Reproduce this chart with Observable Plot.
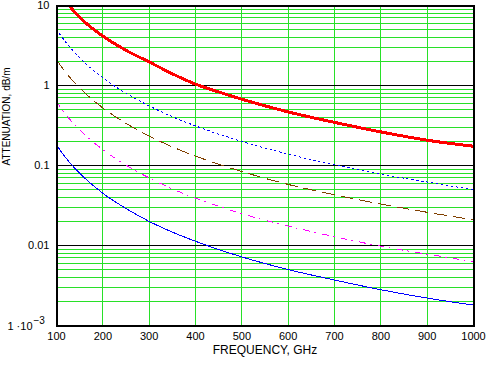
<!DOCTYPE html>
<html><head><meta charset="utf-8">
<script src="https://cdn.jsdelivr.net/npm/d3@7"></script>
<script src="https://cdn.jsdelivr.net/npm/@observablehq/plot@0.6"></script>
<style>html,body{margin:0;padding:0;background:#fff}svg{display:block}</style>
</head><body><div id="chart"></div>
<script>
// Frequency samples (GHz)
const frequencies = [100,125,150,175,200,250,300,350,400,450,500,600,700,800,900,1000];
// Attenuation values (dB/m)
const redThick   = [null,10.3,7.1,5.3,4.15,2.75,1.97,1.40,1.04,0.83,0.674,0.467,0.346,0.263,0.207,0.174];
const blueDotted = [5.0,3.2,2.22,1.63,1.25,0.80,0.556,0.408,0.3125,0.247,0.20,0.139,0.102,0.078,0.062,0.050];
const brownDashed= [2.1,1.34,0.933,0.686,0.525,0.336,0.233,0.171,0.131,0.104,0.084,0.058,0.043,0.033,0.026,0.021];
const magentaDashDot = [0.63,0.40,0.28,0.206,0.158,0.101,0.070,0.051,0.039,0.031,0.025,0.0175,0.0129,0.0098,0.0078,0.0063];
const blueSolid  = [0.18,0.115,0.080,0.059,0.045,0.029,0.020,0.0147,0.0113,0.0089,0.0072,0.0050,0.0037,0.0028,0.0022,0.0018];

// Axis ticks and labels
const xTicks = [100,200,300,400,500,600,700,800,900,1000];
const xTickLabels = ["100","200","300","400","500","600","700","800","900","1000"];
const yTicks = [0.001,0.01,0.1,1,10];
const yTickLabels = ["1 ·10","0.01","0.1","1","10"];
const yExpLabel = "−3";
const xLabel = "FREQUENCY, GHz";
const yLabel = "ATTENUATION, dB/m";

const mantissas = [2,3,4,5,6,7,8,9];
const minorY = [0.001,0.01,0.1,1].flatMap(d => mantissas.map(m => +(m*d).toPrecision(3)));

const rows = s => frequencies.map((f,i) => ({f, v: s[i]}));
const GREEN = "#28e028";
const font = "'Liberation Sans', Arial, sans-serif";
const crisp = {shapeRendering: "crispEdges"};

const line = (s, opts) => Plot.line(rows(s), {x:"f", y:"v", curve:"monotone-x", clip:true, ...crisp, ...opts});

const chart = Plot.plot({
  width: 494, height: 369,
  marginLeft: 56, marginRight: 21, marginTop: 5, marginBottom: 44,
  style: {fontFamily: font, fontSize: "11px", color: "black", background: "white"},
  x: {domain: [100,1000], axis: null},
  y: {type: "log", domain: [0.001,10], axis: null},
  marks: [
    Plot.ruleX(xTicks, {stroke: GREEN, strokeWidth: 1, ...crisp}),
    Plot.ruleY(minorY, {stroke: GREEN, strokeWidth: 1, ...crisp}),
    Plot.ruleY(yTicks, {stroke: "black", strokeWidth: 1, ...crisp}),
    line(blueSolid, {stroke: "#0000ff", strokeWidth: 1}),
    line(magentaDashDot, {stroke: "#ff00ff", strokeWidth: 1, strokeDasharray: "6,5,1,7"}),
    line(brownDashed, {stroke: "#804000", strokeWidth: 1, strokeDasharray: "12,7"}),
    line(blueDotted, {stroke: "#0000ff", strokeWidth: 1, strokeDasharray: "1.5,3.5"}),
    line(redThick, {stroke: "#ff0000", strokeWidth: 3}),
    Plot.frame({stroke: "black", strokeWidth: 2, ...crisp}),
    // x tick labels
    Plot.text(xTicks, {x: d => d, text: (d,i) => xTickLabels[i], frameAnchor: "bottom", lineAnchor: "top", dy: 7, fill: "black", fontSize: 11}),
    // y tick labels
    Plot.text(yTicks.slice(1), {y: d => d, text: (d,i) => yTickLabels[i+1], frameAnchor: "left", textAnchor: "end", dx: -7, fill: "black", fontSize: 11}),
    Plot.text([yTicks[0]], {y: d => d, text: [yTickLabels[0]], frameAnchor: "left", textAnchor: "end", dx: -24, dy: 1, fill: "black", fontSize: 11}),
    Plot.text([yTicks[0]], {y: d => d, text: [yExpLabel], frameAnchor: "left", textAnchor: "start", dx: -23, dy: -5, fill: "black", fontSize: 10}),
    // axis titles
    Plot.text([xLabel], {frameAnchor: "bottom", dy: 28, fill: "black", fontSize: 12}),
    Plot.text([yLabel], {frameAnchor: "left", dx: -50, rotate: -90, fill: "black", fontSize: 10})
  ]
});
document.getElementById("chart").appendChild(chart);
</script>
</body></html>
